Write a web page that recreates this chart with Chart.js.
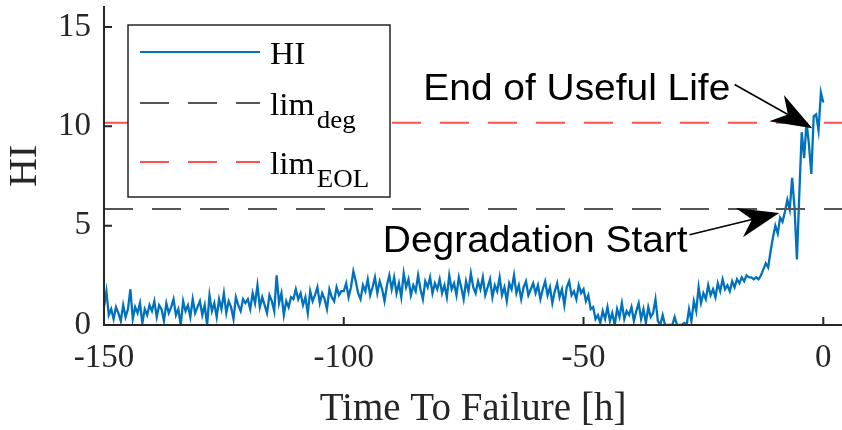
<!DOCTYPE html>
<html>
<head>
<meta charset="utf-8">
<script src="https://cdn.jsdelivr.net/npm/chart.js@4.4.1/dist/chart.umd.min.js"></script>
<style>
  html, body { margin: 0; padding: 0; background: #fff; }
</style>
</head>
<body>
<canvas id="chart" width="842" height="430"></canvas>
<script>
// time grid of the health indicator (hours to failure)
const tStart = -150;
const tStep = 0.5;

// HI, one value every 0.5 h from -150 to 0
const hiValues = [
  0.9, 1.7, 0.5, 0.8, 0.3, 0.9, 0.6, 0.2, 1.0, 0.4, 0.8, 1.8, 0.3, 0.9, 0.6, 1.1, 0.1, 0.8, 0.5, 1.0,
  0.7, 1.2, 0.4, 1.0, 0.8, 0.2, 1.1, 0.6, 0.9, 1.3, 0.5, 0.8, 0.0, 1.2, 0.7, 1.0, 0.4, 1.3, 0.6, 0.9,
  1.2, 0.5, 1.0, 0.0, 1.5, 0.7, 1.1, 0.4, 1.3, 0.8, 1.6, 0.6, 1.2, 0.9, 0.3, 1.4, 1.0, 0.7, 1.3, 1.1,
  1.3, 0.8, 1.6, 1.1, 2.0, 0.9, 1.4, 1.0, 0.6, 1.5, 1.2, 0.7, 2.5, 1.1, 1.6, 0.5, 1.2, 0.9, 1.4, 1.3,
  1.8, 1.3, 1.6, 1.0, 1.4, 0.6, 1.7, 1.2, 1.5, 1.9, 1.1, 1.6, 1.3, 0.8, 1.8, 1.4, 1.2, 1.9, 1.5, 1.7,
  1.7, 2.1, 1.4, 1.9, 2.7, 2.2, 1.6, 1.3, 2.0, 1.7, 2.3, 1.5, 1.9, 2.4, 1.6, 2.2, 1.8, 1.2, 2.0, 2.5,
  1.8, 2.4, 1.6, 2.1, 1.4, 2.6, 1.9, 2.3, 1.5, 2.0, 1.7, 2.5, 1.8, 1.3, 2.2, 1.9, 2.4, 1.6, 2.1, 1.8,
  2.3, 1.6, 2.0, 1.4, 2.5, 1.8, 2.1, 1.5, 2.4, 1.9, 1.3, 2.2, 1.7, 2.6, 1.9, 1.6, 2.2, 1.8, 2.4, 1.5,
  1.9, 2.3, 1.4, 2.0, 1.7, 2.4, 1.5, 1.9, 1.2, 2.1, 1.8, 2.5, 1.6, 2.0, 1.3, 1.9, 2.2, 1.5, 1.8, 2.1,
  1.6, 2.0, 1.3, 1.8, 2.2, 1.5, 1.9, 1.1, 1.7, 2.1, 1.4, 1.8, 1.0, 1.9, 2.2, 1.5, 1.7, 1.3, 2.0, 1.6,
  1.8, 1.2, 1.5, 0.8, 0.9, 0.3, 0.5, 0.1, 0.7, 0.3, 0.9, 0.2, 0.6, 0.0, 0.8, 0.4, 1.1, 0.3, 0.7, 0.5,
  0.9, 0.2, 0.7, 1.1, 0.3, 0.8, 0.1, 0.9, 0.4, 0.6, 1.3, 0.2, 0.0, 0.5, 0.0, 0.0, 0.0, 0.0, 0.4, 0.0,
  0.0, 0.0, 0.1, 0.0, 0.8, 0.2, 1.2, 0.7, 1.9, 1.1, 1.6, 1.3, 2.0, 1.5, 1.8, 1.4, 2.1, 1.7, 2.3, 1.8,
  2.0, 1.7, 2.2, 1.9, 2.3, 2.1, 2.4, 2.2, 2.5, 2.4, 2.4, 2.3, 2.4, 2.3, 2.5, 2.8, 3.1, 2.9, 3.7, 4.4,
  5.0, 4.6, 5.4, 5.2, 5.7, 6.3, 5.8, 7.4, 5.9, 3.3, 6.6, 9.7, 8.4, 10.2, 9.1, 7.6, 10.5, 10.6, 9.8, 11.7,
  11.2
];

// thresholds
const limDeg = 5.84;
const limEOL = 10.17;

// axes
const xMin = -150, xMax = 3.9;
const yMin = 0, yMax = 16;
const xTicks = [-150, -100, -50, 0];
const yTicks = [0, 5, 10, 15];

// legend labels: [main, subscript]
const legendLabels = [['HI', ''], ['lim', 'deg'], ['lim', 'EOL']];

// arrows with text, in data units
const notes = [
  { text: 'End of Useful Life', tx: -19.4, ty: 11.3, fx: -18.5, fy: 12.1, px: -2.3, py: 9.9 },
  { text: 'Degradation Start', tx: -28.3, ty: 3.68, fx: -27.9, fy: 4.54, px: -9.2, py: 5.64 }
];

const axisColor = '#262626';
const serif = '"Liberation Serif", "Times New Roman", serif';
const sans = '"Liberation Sans", Arial, sans-serif';
const stretch = 1.08; // the figure text is a bit wider than tall

let hiPoints = [];
for (let i = 0; i < hiValues.length; i++) {
  hiPoints.push({ x: tStart + i * tStep, y: hiValues[i] });
}

//text drawn a bit wider, like the picture
function wideText(ctx, str, x, y, align) {
  ctx.save();
  ctx.translate(x, y);
  ctx.scale(stretch, 1);
  ctx.textAlign = align;
  ctx.textBaseline = 'alphabetic';
  ctx.fillText(str, 0, 0);
  ctx.restore();
  return ctx.measureText(str).width * stretch;
}

// axis lines with ticks pointing inward, legend box and arrows
const decorPlugin = {
  id: 'decor',
  afterDatasetsDraw(chart) {
    const ctx = chart.ctx;
    const xs = chart.scales.x, ys = chart.scales.y;
    const area = chart.chartArea;
    ctx.save();

    //axes
    ctx.strokeStyle = axisColor;
    ctx.lineWidth = 2;
    ctx.beginPath();
    ctx.moveTo(area.left, area.top - 1);
    ctx.lineTo(area.left, area.bottom);
    ctx.lineTo(area.right, area.bottom);
    ctx.stroke();
    ctx.beginPath();
    xTicks.forEach(v => {
      let p = xs.getPixelForValue(v);
      ctx.moveTo(p, area.bottom);
      ctx.lineTo(p, area.bottom - 8);
    });
    yTicks.forEach(v => {
      let p = ys.getPixelForValue(v);
      ctx.moveTo(area.left, p);
      ctx.lineTo(area.left + 8, p);
    });
    ctx.stroke();

    //legend
    const lx = area.left + 24, ly = area.top + 18, lw = 262, lh = 172;
    ctx.fillStyle = '#fff';
    ctx.fillRect(lx, ly, lw, lh);
    ctx.lineWidth = 1.5;
    ctx.strokeStyle = axisColor;
    ctx.strokeRect(lx, ly, lw, lh);
    const rows = [27, 78, 137];
    chart.data.datasets.forEach((ds, i) => {
      let y = ly + rows[i];
      ctx.strokeStyle = ds.borderColor;
      ctx.lineWidth = 2;
      ctx.setLineDash(ds.borderDash || []);
      ctx.beginPath();
      ctx.moveTo(lx + 12, y);
      ctx.lineTo(lx + 132, y);
      ctx.stroke();
      ctx.setLineDash([]);
      ctx.fillStyle = '#000';
      ctx.font = '31px ' + serif;
      let w = wideText(ctx, legendLabels[i][0], lx + 142, y + 12, 'left');
      if (legendLabels[i][1]) {
        ctx.font = '25px ' + serif;
        wideText(ctx, legendLabels[i][1], lx + 144 + w, y + 25, 'left');
      }
    });

    //arrows
    notes.forEach(n => {
      let x0 = xs.getPixelForValue(n.fx), y0 = ys.getPixelForValue(n.fy);
      let x1 = xs.getPixelForValue(n.px), y1 = ys.getPixelForValue(n.py);
      let ang = Math.atan2(y1 - y0, x1 - x0);
      let c = Math.cos(ang), s = Math.sin(ang);
      let L = 41, W = 15, N = 28;
      ctx.strokeStyle = '#000';
      ctx.lineWidth = 1.6;
      ctx.beginPath();
      ctx.moveTo(x0, y0);
      ctx.lineTo(x1 - c * N, y1 - s * N);
      ctx.stroke();
      ctx.fillStyle = '#000';
      ctx.beginPath();
      ctx.moveTo(x1, y1);
      ctx.lineTo(x1 - c * L - s * W, y1 - s * L + c * W);
      ctx.lineTo(x1 - c * N, y1 - s * N);
      ctx.lineTo(x1 - c * L + s * W, y1 - s * L - c * W);
      ctx.closePath();
      ctx.fill();

      ctx.font = '36px ' + sans;
      wideText(ctx, n.text, xs.getPixelForValue(n.tx), ys.getPixelForValue(n.ty), 'right');
    });
    ctx.restore();
  }
};

const ctx = document.getElementById('chart').getContext('2d');
let myChart = new Chart(ctx, {
  type: 'line',
  data: {
    datasets: [
      {
        label: 'HI',
        data: hiPoints,
        borderColor: '#0072BD',
        borderWidth: 2.3,
        pointRadius: 0,
        tension: 0,
        order: 2
      },
      {
        label: 'lim_deg',
        data: [{ x: xMin, y: limDeg }, { x: xMax, y: limDeg }],
        borderColor: '#555555',
        borderWidth: 2,
        borderDash: [29, 19],
        pointRadius: 0,
        order: 1
      },
      {
        label: 'lim_EOL',
        data: [{ x: xMin, y: limEOL }, { x: xMax, y: limEOL }],
        borderColor: '#FF5050',
        borderWidth: 2,
        borderDash: [29, 19],
        pointRadius: 0,
        order: 0
      }
    ]
  },
  options: {
    responsive: false,
    animation: false,
    layout: { padding: { top: 7, right: 0, left: 0, bottom: 0 } },
    plugins: { legend: { display: false }, tooltip: { enabled: false } },
    scales: {
      x: {
        type: 'linear',
        min: xMin,
        max: xMax,
        afterFit(s) { s.height = 105; s.paddingLeft = 0; s.paddingRight = 0; },
        afterBuildTicks(s) { s.ticks = xTicks.map(v => ({ value: v })); },
        grid: { display: false, drawTicks: false },
        border: { display: false },
        ticks: {
          color: axisColor,
          font: { family: serif, size: 33 },
          padding: 14,
          maxRotation: 0,
          callback: v => String(v)
        },
        title: {
          display: true,
          text: 'Time To Failure [h]',
          color: axisColor,
          font: { family: serif, size: 39, lineHeight: 1.0 },
          padding: { top: 0, bottom: 1 }
        }
      },
      y: {
        min: yMin,
        max: yMax,
        afterFit(s) { s.width = 104; s.paddingTop = 0; s.paddingBottom = 0; },
        afterBuildTicks(s) { s.ticks = yTicks.map(v => ({ value: v })); },
        grid: { display: false, drawTicks: false },
        border: { display: false },
        ticks: {
          color: axisColor,
          font: { family: serif, size: 33 },
          padding: 13,
          callback: v => String(v)
        },
        title: {
          display: true,
          text: 'HI',
          color: axisColor,
          font: { family: serif, size: 40, lineHeight: 1.0 },
          padding: { top: 5, bottom: 0 }
        }
      }
    }
  },
  plugins: [decorPlugin]
});
</script>
</body>
</html>
